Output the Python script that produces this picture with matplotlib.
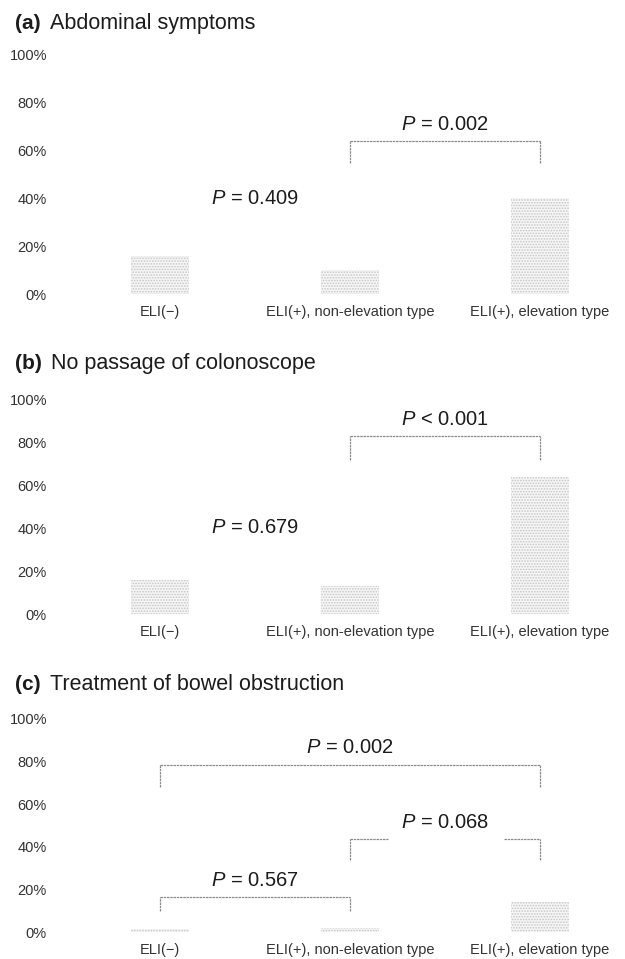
import matplotlib
matplotlib.use("Agg")
import matplotlib.pyplot as plt

plt.rcParams["font.family"] = ["Liberation Sans", "DejaVu Sans"]
plt.rcParams["mathtext.fontset"] = "custom"
plt.rcParams["mathtext.rm"] = "Liberation Sans"
plt.rcParams["mathtext.it"] = "Liberation Sans:italic"
plt.rcParams["hatch.linewidth"] = 0.8

# ---- data -------------------------------------------------------------
categories = ["ELI(\u2212)", "ELI(+), non-elevation type", "ELI(+), elevation type"]
ytick_values = [0, 20, 40, 60, 80, 100]
ytick_labels = ["0%", "20%", "40%", "60%", "80%", "100%"]

panel_tags = ["(a)", "(b)", "(c)"]
panel_titles = ["Abdominal symptoms", "No passage of colonoscope",
                "Treatment of bowel obstruction"]

abdominal_symptoms = [16, 10, 40]
no_passage = [16, 13, 64]
bowel_treatment = [1.5, 2, 14]

# brackets: (left bar, right bar, height %, leg length %, p text, split line)
brackets_a = [(1, 2, 64, 9, "= 0.002", False)]
brackets_b = [(1, 2, 83, 11, "< 0.001", False)]
brackets_c = [(0, 1, 16.3, 6.3, "= 0.567", False),
              (1, 2, 43.7, 9.7, "= 0.068", True),
              (0, 2, 78.6, 10.6, "= 0.002", False)]

# free-standing p values: (x position, height %, p text)
free_p_a = [(0.5, 37.5, "= 0.409")]
free_p_b = [(0.5, 38, "= 0.679")]
free_p_c = []

# ---- layout -----------------------------------------------------------
W, H = 625, 959
fig = plt.figure(figsize=(W / 100, H / 100), dpi=100)

# axes rows in pixel space: (y of 0%, y of 100%)
rows = [(294, 55), (614, 400), (932, 719)]
title_baselines = [29, 369, 690]
x_left_px, x_right_px = 65, 615
bar0_px, step_px = 160, 190
xlim = ((x_left_px - bar0_px) / step_px, (x_right_px - bar0_px) / step_px)

values = [abdominal_symptoms, no_passage, bowel_treatment]
brackets = [brackets_a, brackets_b, brackets_c]
free_ps = [free_p_a, free_p_b, free_p_c]

text_color = "#1c1c1c"
line_color = "#8c8c8c"

for k in range(3):
    y0, y100 = rows[k]
    ax = fig.add_axes([x_left_px / W, 1 - y0 / H,
                       (x_right_px - x_left_px) / W, (y0 - y100) / H])
    xs = list(range(len(categories)))
    ax.bar(xs, values[k], width=0.31, facecolor="#f6f6f6",
           edgecolor="#c6c6c6", hatch="......", linewidth=0)
    ax.set_xlim(*xlim)
    ax.set_ylim(0, 100)
    ax.set_yticks(ytick_values)
    ax.set_yticklabels(ytick_labels)
    ax.set_xticks(xs)
    ax.set_xticklabels(categories)
    ax.tick_params(axis="y", length=0, pad=13, labelsize=10.5,
                   labelcolor="#333333")
    ax.tick_params(axis="x", length=0, pad=8, labelsize=10.5,
                   labelcolor="#333333")
    for s in ax.spines.values():
        s.set_visible(False)

    for (i, j, h, leg, ptxt, split) in brackets[k]:
        mid = (i + j) / 2
        kw = dict(color=line_color, lw=0.9, linestyle=(0, (2.0, 0.6)),
                  clip_on=False)
        ax.plot([i, i], [h - leg, h], **kw)
        ax.plot([j, j], [h - leg, h], **kw)
        if split:
            ax.plot([i, mid - 0.30], [h, h], **kw)
            ax.plot([mid + 0.31, j], [h, h], **kw)
        else:
            ax.plot([i, j], [h, h], **kw)
        ax.annotate(r"$P$ " + ptxt, xy=(mid, h), xytext=(0, 8),
                    textcoords="offset points", ha="center", va="baseline",
                    fontsize=14.5, color=text_color, annotation_clip=False)

    for (xp, yp, ptxt) in free_ps[k]:
        ax.text(xp, yp, r"$P$ " + ptxt, ha="center", va="baseline",
                fontsize=14.5, color=text_color)

    # panel heading: bold tag followed by the title
    yb = 1 - title_baselines[k] / H
    tag = fig.text(15 / W, yb, panel_tags[k], fontsize=15,
                   fontweight="bold", va="baseline", color=text_color)
    fig.canvas.draw()
    bb = tag.get_window_extent()
    fig.text((bb.x1 + 9) / W, yb, panel_titles[k], fontsize=15.5,
             va="baseline", color=text_color)

fig.savefig("out.png", dpi=100, facecolor="white")
